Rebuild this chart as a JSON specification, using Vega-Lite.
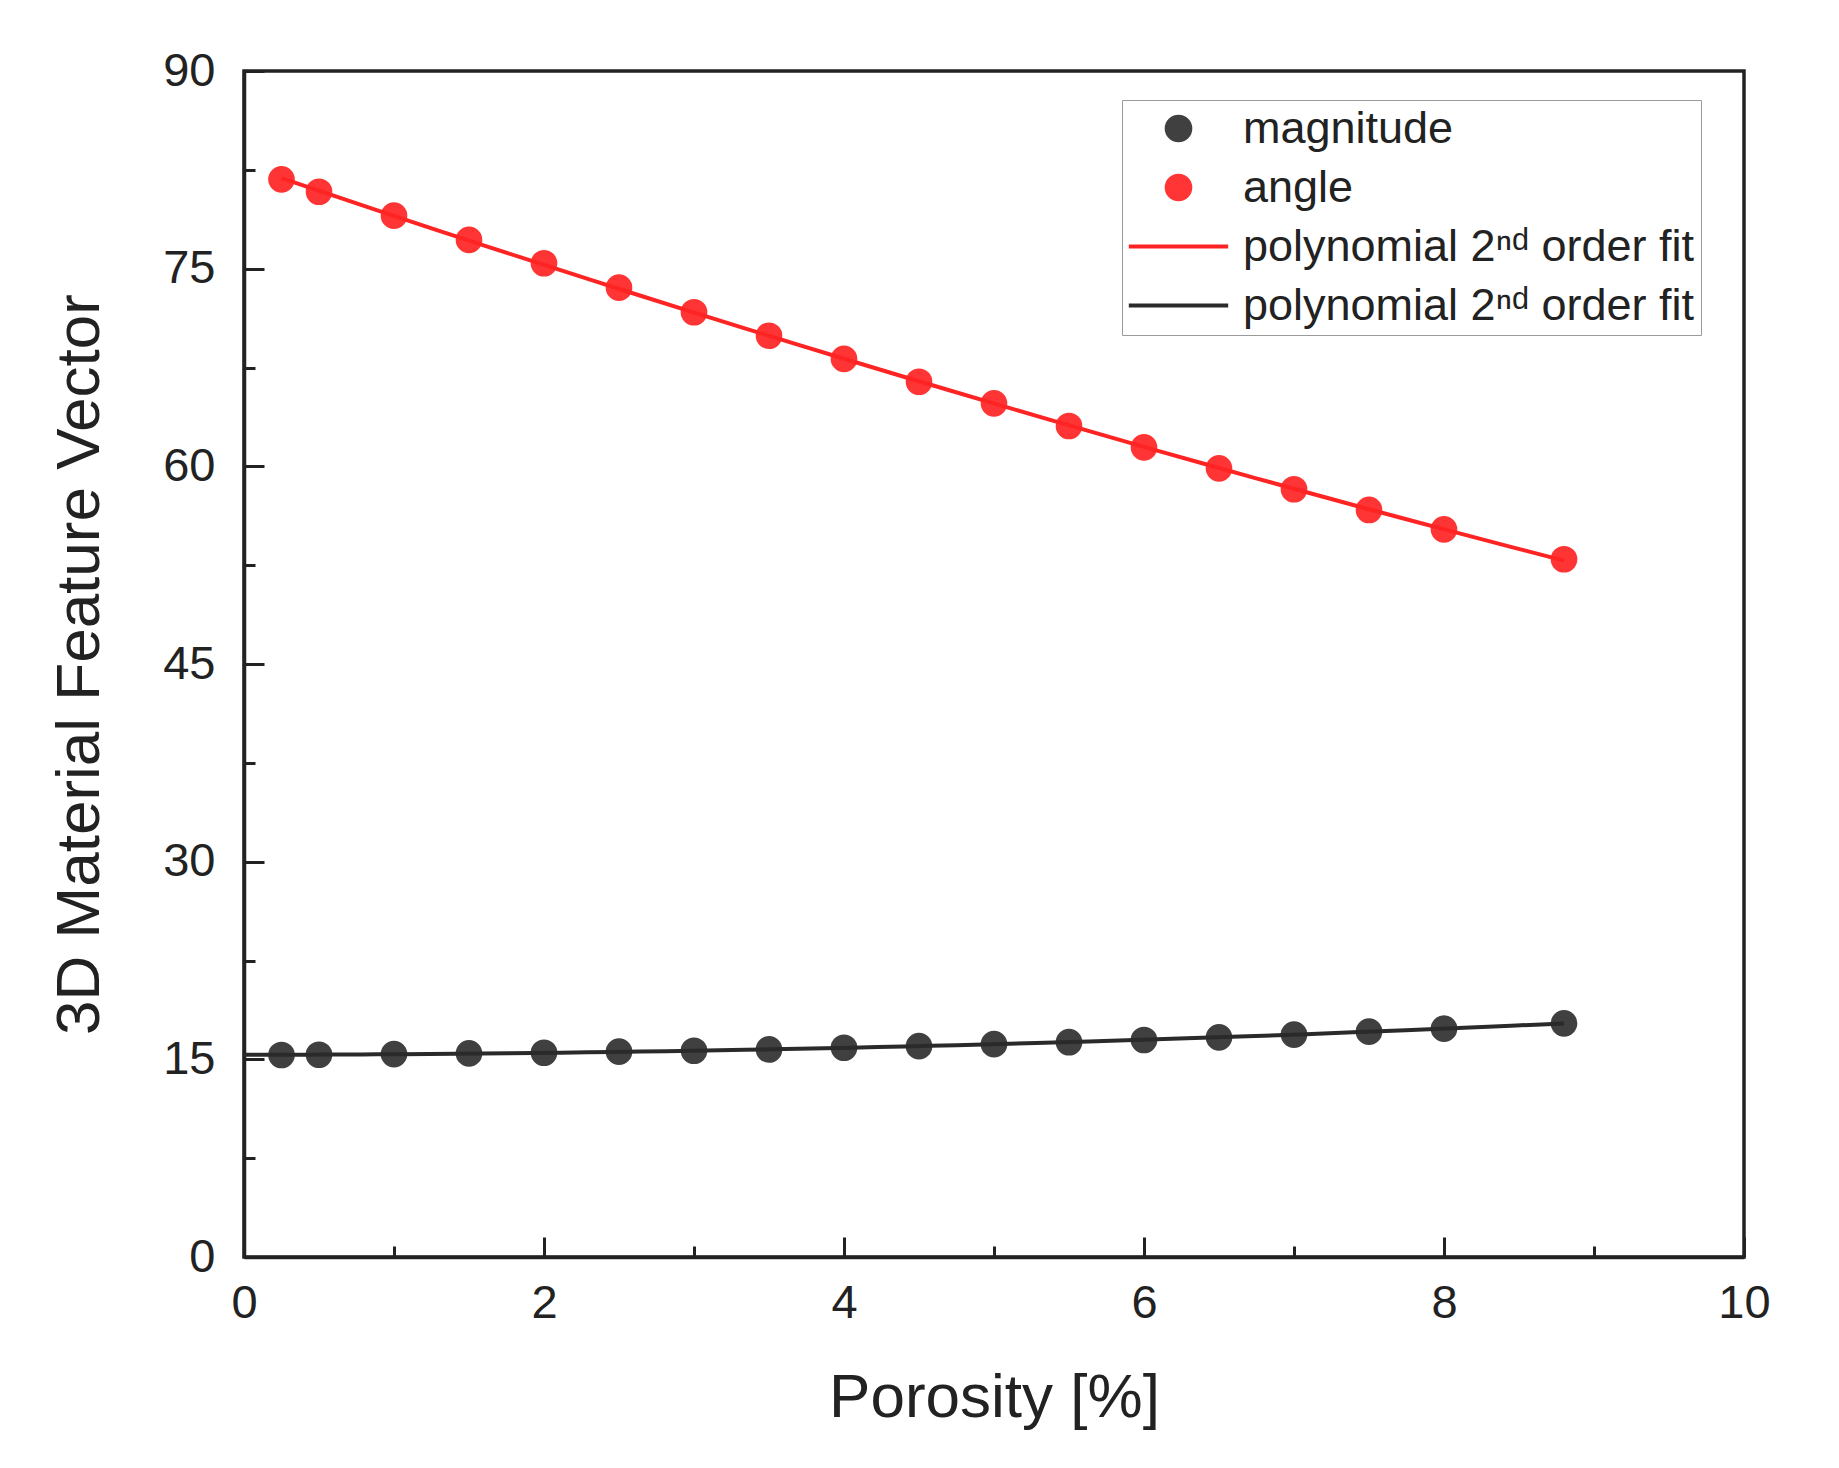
{
  "$schema": "https://vega.github.io/schema/vega-lite/v6.json",
  "width": 1500,
  "height": 1186,
  "autosize": {"type": "none"},
  "padding": {"left": 244, "top": 71, "right": 95, "bottom": 211},
  "background": "white",
  "config": {
    "font": "Liberation Sans",
    "view": {"stroke": "#222222", "strokeWidth": 3.5},
    "axis": {
      "grid": false,
      "domainColor": "#222222",
      "domainWidth": 3.5,
      "tickColor": "#222222",
      "tickWidth": 3,
      "labelFont": "Liberation Sans",
      "labelFontSize": 47,
      "labelColor": "#222222",
      "titleFont": "Liberation Sans",
      "titleFontSize": 62,
      "titleFontWeight": "normal",
      "titleColor": "#222222"
    },
    "legend": {
      "symbolStrokeWidth": 4
    }
  },
  "data": {
    "values": [
      {"porosity": 0.25, "value": 81.78, "series": "angle", "fit": "fit_a"},
      {"porosity": 0.5, "value": 80.84, "series": "angle", "fit": "fit_a"},
      {"porosity": 1.0, "value": 79.02, "series": "angle", "fit": "fit_a"},
      {"porosity": 1.5, "value": 77.18, "series": "angle", "fit": "fit_a"},
      {"porosity": 2.0, "value": 75.41, "series": "angle", "fit": "fit_a"},
      {"porosity": 2.5, "value": 73.56, "series": "angle", "fit": "fit_a"},
      {"porosity": 3.0, "value": 71.69, "series": "angle", "fit": "fit_a"},
      {"porosity": 3.5, "value": 69.91, "series": "angle", "fit": "fit_a"},
      {"porosity": 4.0, "value": 68.15, "series": "angle", "fit": "fit_a"},
      {"porosity": 4.5, "value": 66.42, "series": "angle", "fit": "fit_a"},
      {"porosity": 5.0, "value": 64.78, "series": "angle", "fit": "fit_a"},
      {"porosity": 5.5, "value": 63.06, "series": "angle", "fit": "fit_a"},
      {"porosity": 6.0, "value": 61.44, "series": "angle", "fit": "fit_a"},
      {"porosity": 6.5, "value": 59.85, "series": "angle", "fit": "fit_a"},
      {"porosity": 7.0, "value": 58.26, "series": "angle", "fit": "fit_a"},
      {"porosity": 7.5, "value": 56.69, "series": "angle", "fit": "fit_a"},
      {"porosity": 8.0, "value": 55.22, "series": "angle", "fit": "fit_a"},
      {"porosity": 8.8, "value": 52.95, "series": "angle", "fit": "fit_a"},
      {"porosity": 0.25, "value": 15.33, "series": "magnitude", "fit": "fit_m"},
      {"porosity": 0.5, "value": 15.35, "series": "magnitude", "fit": "fit_m"},
      {"porosity": 1.0, "value": 15.4, "series": "magnitude", "fit": "fit_m"},
      {"porosity": 1.5, "value": 15.45, "series": "magnitude", "fit": "fit_m"},
      {"porosity": 2.0, "value": 15.5, "series": "magnitude", "fit": "fit_m"},
      {"porosity": 2.5, "value": 15.58, "series": "magnitude", "fit": "fit_m"},
      {"porosity": 3.0, "value": 15.65, "series": "magnitude", "fit": "fit_m"},
      {"porosity": 3.5, "value": 15.75, "series": "magnitude", "fit": "fit_m"},
      {"porosity": 4.0, "value": 15.88, "series": "magnitude", "fit": "fit_m"},
      {"porosity": 4.5, "value": 16.0, "series": "magnitude", "fit": "fit_m"},
      {"porosity": 5.0, "value": 16.15, "series": "magnitude", "fit": "fit_m"},
      {"porosity": 5.5, "value": 16.3, "series": "magnitude", "fit": "fit_m"},
      {"porosity": 6.0, "value": 16.47, "series": "magnitude", "fit": "fit_m"},
      {"porosity": 6.5, "value": 16.67, "series": "magnitude", "fit": "fit_m"},
      {"porosity": 7.0, "value": 16.88, "series": "magnitude", "fit": "fit_m"},
      {"porosity": 7.5, "value": 17.1, "series": "magnitude", "fit": "fit_m"},
      {"porosity": 8.0, "value": 17.33, "series": "magnitude", "fit": "fit_m"},
      {"porosity": 8.8, "value": 17.73, "series": "magnitude", "fit": "fit_m"}
    ]
  },
  "resolve": {"axis": {"x": "independent", "y": "independent"}},
  "layer": [
    {
      "mark": {"type": "point", "filled": true, "opacity": 1, "strokeWidth": 3, "size": 560},
      "encoding": {
        "x": {
          "field": "porosity",
          "type": "quantitative",
          "scale": {"domain": [0, 10], "nice": false},
          "axis": {
            "orient": "bottom",
            "values": [0, 2, 4, 6, 8, 10],
            "tickSize": -20,
            "labelPadding": 43,
            "labelFlush": false,
            "title": "Porosity [%]",
            "titleBaseline": "top",
            "titleY": 110
          }
        },
        "y": {
          "field": "value",
          "type": "quantitative",
          "scale": {"domain": [0, 90], "nice": false, "zero": false},
          "axis": {
            "orient": "left",
            "values": [0, 15, 30, 45, 60, 75, 90],
            "tickSize": -20,
            "labelPadding": 49,
            "labelFlush": false,
            "title": "3D Material Feature Vector",
            "titleBaseline": "alphabetic",
            "titleX": -146
          }
        },
        "color": {
          "field": "series",
          "type": "nominal",
          "scale": {
            "domain": ["magnitude", "angle", "fit_a", "fit_m"],
            "range": ["#404040", "#ff3535", "#ff2424", "#2a2a2a"]
          },
          "legend": {
            "title": null,
            "orient": "none",
            "legendX": 878,
            "legendY": 29,
            "padding": 6,
            "strokeColor": "#9a9a9a",
            "fillColor": "white",
            "labelFont": "Liberation Sans",
            "labelFontSize": 45,
            "labelColor": "#222222",
            "labelLimit": 0,
            "symbolSize": 560,
            "symbolOffset": 28,
            "labelOffset": 42,
            "rowPadding": 13,
            "labelExpr": "datum.value == 'magnitude' ? 'magnitude' : datum.value == 'angle' ? 'angle' : 'polynomial 2ⁿᵈ order fit'"
          }
        },
        "stroke": {
          "field": "series",
          "type": "nominal",
          "scale": {
            "domain": ["magnitude", "angle", "fit_a", "fit_m"],
            "range": ["#404040", "#ff3535", "#ff2424", "#2a2a2a"]
          }
        },
        "shape": {
          "field": "series",
          "type": "nominal",
          "scale": {
            "domain": ["magnitude", "angle", "fit_a", "fit_m"],
            "range": ["circle", "circle", "M-4.2,0H4.2", "M-4.2,0H4.2"]
          }
        }
      }
    },
    {
      "transform": [
        {"filter": "datum.series == 'angle'"},
        {"regression": "value", "on": "porosity", "method": "poly", "order": 2, "groupby": ["fit"]}
      ],
      "mark": {"type": "line", "strokeWidth": 4},
      "encoding": {
        "x": {
          "field": "porosity",
          "type": "quantitative",
          "axis": {
            "orient": "bottom",
            "values": [1, 3, 5, 7, 9],
            "tickSize": -11,
            "labels": false,
            "domain": false,
            "title": null
          }
        },
        "y": {
          "field": "value",
          "type": "quantitative",
          "axis": {
            "orient": "left",
            "values": [7.5, 22.5, 37.5, 52.5, 67.5, 82.5],
            "tickSize": -11,
            "labels": false,
            "domain": false,
            "title": null
          }
        },
        "color": {"field": "fit", "type": "nominal", "legend": null}
      }
    },
    {
      "transform": [
        {"filter": "datum.series == 'magnitude'"},
        {"regression": "value", "on": "porosity", "method": "poly", "order": 2, "groupby": ["fit"], "extent": [0, 8.8]}
      ],
      "mark": {"type": "line", "strokeWidth": 4},
      "encoding": {
        "x": {"field": "porosity", "type": "quantitative", "axis": null},
        "y": {"field": "value", "type": "quantitative", "axis": null},
        "color": {"field": "fit", "type": "nominal", "legend": null}
      }
    }
  ]
}
